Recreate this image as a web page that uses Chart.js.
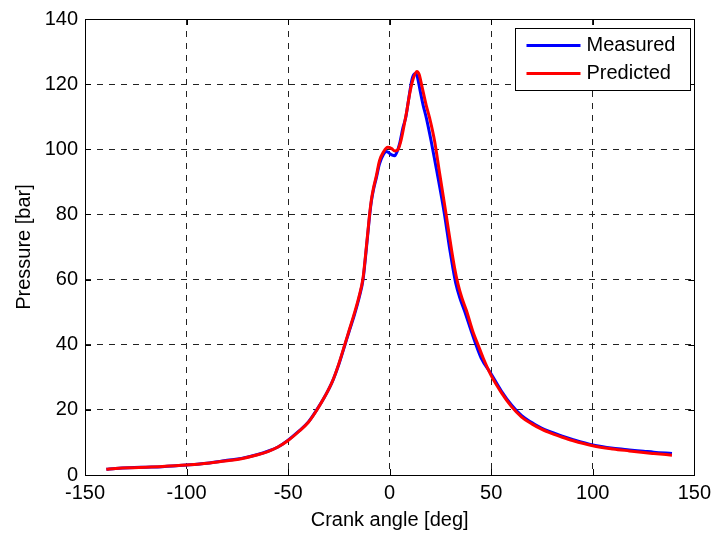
<!DOCTYPE html>
<html>
<head>
<meta charset="utf-8">
<script src="https://cdn.jsdelivr.net/npm/chart.js@4.4.1/dist/chart.umd.min.js"></script>
<style>
  html, body { margin: 0; padding: 0; background: #fff; }
  #wrap { width: 717px; height: 534px; }
</style>
</head>
<body>
<div id="wrap"><canvas id="pressureChart" width="717" height="534"></canvas></div>
<script>
// crank angle [deg] and cylinder pressure [bar]
const angleMeasured = [-139.5, -135, -128, -120, -112, -100, -90, -80, -73, -65, -60, -55, -50, -45, -40, -36, -32, -28, -25, -22, -20, -17.2, -15, -13.1, -12.2, -11.4, -10.6, -9.8, -9, -8, -6.5, -5, -3, -1.5, 0, 1, 2.5, 3.5, 5, 6.5, 8, 9.5, 11, 12.3, 13.5, 15, 16.5, 18, 20.4, 23, 27, 29.4, 31, 32.5, 34.5, 36.8, 40, 42.2, 45, 50, 55, 60, 65, 70, 75, 80, 85, 90, 100, 110, 118, 125, 130, 139];
const pressureMeasured = [1.75, 2.0, 2.25, 2.4, 2.55, 3.05, 3.6, 4.5, 5.1, 6.3, 7.3, 8.6, 10.7, 13.3, 16.3, 19.9, 24, 29, 34, 40, 44, 49.5, 54.5, 60, 65, 70, 75, 80, 84, 87.5, 91.4, 95.5, 98.5, 99.3, 98.7, 98.3, 98, 99, 102, 106.5, 110, 116, 121.5, 123.2, 122.5, 118, 113.5, 109.8, 102.6, 94, 80, 70, 64, 59, 54.5, 50.5, 44.5, 40.5, 36, 31, 25.8, 21.5, 18.2, 16.1, 14.3, 13.1, 11.9, 10.9, 9.2, 8.2, 7.7, 7.3, 7.0, 6.6];

const anglePredicted = [-139.5, -135, -128, -120, -112, -100, -90, -80, -73, -65, -60, -55, -50, -45, -40, -36, -32, -28, -25, -22, -20, -17.2, -15, -13.1, -12.2, -11.4, -10.6, -9.8, -9, -8, -6.5, -5, -3, -1, 1, 2.5, 4, 5.5, 7, 8.5, 10, 11.5, 13.4, 14.5, 16, 18, 19.6, 22.1, 24.5, 27.8, 30.5, 32, 33.5, 35.5, 37.8, 41, 43.5, 46, 50, 55, 60, 65, 70, 75, 80, 85, 90, 100, 110, 118, 125, 130, 139];
const pressurePredicted = [1.75, 2.0, 2.25, 2.4, 2.6, 3.05, 3.6, 4.4, 5.0, 6.2, 7.2, 8.6, 10.6, 13.2, 16.2, 19.8, 24, 29, 34.2, 40.2, 44.3, 50, 55, 60.5, 65.5, 70.5, 75.5, 80.5, 84.5, 88, 92, 96.5, 99.2, 100.6, 100.2, 99.5, 99.8, 102.5, 107, 112, 117.5, 121.5, 123.9, 123, 119, 113.5, 109.8, 102.6, 93, 80, 69, 63.5, 59, 54.5, 50.5, 44, 40, 36, 30.5, 25.3, 21, 17.8, 15.7, 14, 12.7, 11.6, 10.6, 9.0, 8.0, 7.4, 6.9, 6.6, 6.1];

const xTicks = [-150, -100, -50, 0, 50, 100, 150];
const yTicks = [0, 20, 40, 60, 80, 100, 120, 140];
const seriesNames = ['Measured', 'Predicted'];
const seriesColors = ['#0000ff', '#ff0000'];

const FONT = 'Arial, "Liberation Sans", Helvetica, sans-serif';

const toPoints = (xs, ys) => xs.map((x, i) => ({ x: x, y: ys[i] }));

// matlab style box: full frame + inward ticks
const boxPlugin = {
  id: 'matlabBox',
  afterDatasetsDraw(chart) {
    const { ctx, chartArea: a, scales } = chart;
    ctx.save();
    ctx.strokeStyle = '#000';
    ctx.lineWidth = 1;
    ctx.beginPath();
    xTicks.forEach(v => {
      const px = Math.round(scales.x.getPixelForValue(v)) + 0.5;
      ctx.moveTo(px, a.bottom); ctx.lineTo(px, a.bottom - 6);
      ctx.moveTo(px, a.top); ctx.lineTo(px, a.top + 6);
    });
    yTicks.forEach(v => {
      const py = Math.round(scales.y.getPixelForValue(v)) + 0.5;
      ctx.moveTo(a.left, py); ctx.lineTo(a.left + 6, py);
      ctx.moveTo(a.right, py); ctx.lineTo(a.right - 6, py);
    });
    ctx.stroke();
    ctx.strokeRect(Math.round(a.left) + 0.5, Math.round(a.top) + 0.5,
      Math.round(a.right - a.left), Math.round(a.bottom - a.top));
    ctx.restore();
  },
  afterDraw(chart) {
    // legend box in the top right corner
    const { ctx, chartArea: a } = chart;
    const w = 175, h = 62;
    const x0 = Math.round(a.right) - w - 4 + 0.5;
    const y0 = Math.round(a.top) + 9 + 0.5;
    ctx.save();
    ctx.fillStyle = '#fff';
    ctx.fillRect(x0, y0, w, h);
    ctx.strokeStyle = '#000';
    ctx.lineWidth = 1;
    ctx.strokeRect(x0, y0, w, h);
    ctx.font = '20px ' + FONT;
    ctx.textBaseline = 'middle';
    ctx.fillStyle = '#000';
    chart.data.datasets.forEach((ds, i) => {
      const y = y0 + 17 + i * 28;
      ctx.strokeStyle = ds.borderColor;
      ctx.lineWidth = 3;
      ctx.beginPath();
      ctx.moveTo(x0 + 11, y);
      ctx.lineTo(x0 + 65, y);
      ctx.stroke();
      ctx.fillText(ds.label, x0 + 71, y);
    });
    ctx.restore();
  }
};

const ctx = document.getElementById('pressureChart').getContext('2d');

new Chart(ctx, {
  type: 'line',
  data: {
    datasets: [
      {
        label: seriesNames[0],
        data: toPoints(angleMeasured, pressureMeasured),
        borderColor: seriesColors[0],
        borderWidth: 3,
        pointRadius: 0,
        cubicInterpolationMode: 'monotone',
        fill: false,
        order: 2
      },
      {
        label: seriesNames[1],
        data: toPoints(anglePredicted, pressurePredicted),
        borderColor: seriesColors[1],
        borderWidth: 3,
        pointRadius: 0,
        cubicInterpolationMode: 'monotone',
        fill: false,
        order: 1
      }
    ]
  },
  options: {
    responsive: false,
    animation: false,
    events: [],
    layout: { padding: { top: 18, right: 22, left: 0, bottom: 0 } },
    plugins: {
      legend: { display: false },
      tooltip: { enabled: false }
    },
    scales: {
      x: {
        type: 'linear',
        min: -150,
        max: 150,
        afterBuildTicks: (s) => { s.ticks = xTicks.map(v => ({ value: v })); },
        afterFit: (s) => { s.height = 59; },
        ticks: { color: '#000', padding: 6, font: { family: FONT, size: 20 } },
        grid: { color: '#222', lineWidth: 1, drawTicks: false },
        border: { display: false, dash: [6, 6] },
        title: {
          display: true,
          text: 'Crank angle [deg]',
          color: '#000',
          font: { family: FONT, size: 20 },
          padding: { top: 0, bottom: 2 }
        }
      },
      y: {
        min: 0,
        max: 140,
        afterBuildTicks: (s) => { s.ticks = yTicks.map(v => ({ value: v })); },
        afterFit: (s) => { s.width = 85; },
        ticks: { color: '#000', padding: 7, font: { family: FONT, size: 20 } },
        grid: { color: '#222', lineWidth: 1, drawTicks: false },
        border: { display: false, dash: [6, 6] },
        title: {
          display: true,
          text: 'Pressure [bar]',
          color: '#000',
          font: { family: FONT, size: 20 },
          padding: { top: 12, bottom: 0 }
        }
      }
    }
  },
  plugins: [boxPlugin]
});
</script>
</body>
</html>
